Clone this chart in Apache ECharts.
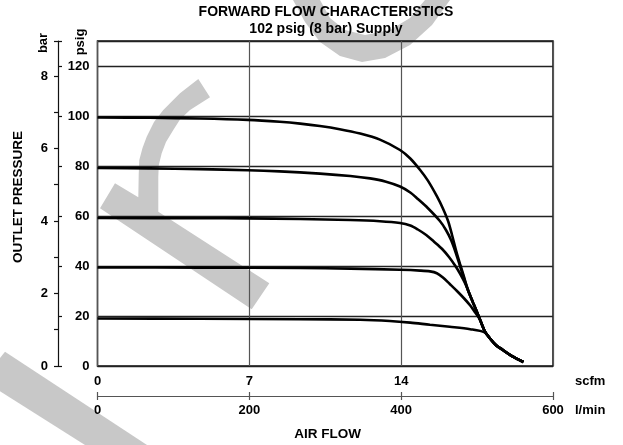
<!DOCTYPE html>
<html>
<head>
<meta charset="utf-8">
<script src="https://cdn.jsdelivr.net/npm/echarts@6/dist/echarts.min.js"></script>
<style>
  html, body { margin: 0; padding: 0; background: #fff; }
  #chart { width: 623px; height: 445px; }
</style>
</head>
<body>
<div id="chart"></div>
<script>
// Air flow axis (l/min) with matching scfm labels
const flowTicks = [0, 200, 400, 600];
const scfmLabels = ['0', '7', '14'];
// Outlet pressure axes
const psigTicks = [0, 20, 40, 60, 80, 100, 120];
const barLabels = [0, 2, 4, 6, 8];
const PSIG_PER_BAR = 14.5038;

// Regulated outlet pressure (psig) against air flow (l/min), one curve per set point
const set100 = [[0, 99.4], [69, 99.28], [135, 99.0], [198, 98.44], [240, 97.68], [267, 96.96], [293, 96.0], [319, 94.72], [346, 92.96], [372, 90.56], [398.5, 86.4], [412, 83.0], [425, 78.4], [435, 74.24], [447, 67.92], [455, 63.0], [462, 57.8], [467, 52.4], [473, 45.44], [477.5, 40.8], [482, 36.4], [488, 30.4], [495, 25.12], [502, 20.0], [510, 14.0], [517, 11.0], [525, 8.32], [534, 6.4], [546, 3.92], [561, 1.6]];
const set80 = [[0, 79.2], [69, 79.04], [135, 78.76], [198, 78.32], [240, 77.84], [293, 76.96], [333, 76.0], [359, 75.04], [379, 73.84], [398.5, 71.8], [412, 69.4], [422, 66.8], [435, 63.2], [451, 58.0], [459, 54.4], [466, 50.2], [472, 45.2], [477.5, 40.0], [488, 30.4], [495, 25.12], [502, 20.0], [510, 14.0], [517, 11.0], [525, 8.32], [534, 6.4], [546, 3.92], [561, 1.6]];
const set60 = [[0, 59.2], [135, 59.12], [198, 59.04], [267, 58.8], [333, 58.4], [372, 57.92], [398.5, 57.2], [412, 56.2], [422, 54.6], [433, 52.4], [443, 49.8], [454, 46.8], [463, 43.6], [471, 40.2], [477.5, 37.0], [484, 33.2], [495, 25.12], [502, 20.0], [510, 14.0], [517, 11.0], [525, 8.32], [534, 6.4], [546, 3.92], [561, 1.6]];
const set40 = [[0, 39.4], [135, 39.36], [267, 39.2], [333, 38.96], [398.5, 38.48], [425, 38.16], [438, 37.84], [447, 37.12], [455, 35.4], [464, 32.8], [473.5, 30.0], [483, 27.0], [491, 24.2], [497, 21.6], [504, 18.4], [510, 14.0], [517, 11.0], [525, 8.32], [534, 6.4], [546, 3.92], [561, 1.6]];
const set20 = [[0, 19.0], [135, 18.88], [267, 18.72], [346, 18.48], [385, 18.0], [412, 17.36], [438, 16.48], [464, 15.68], [491, 14.72], [510, 13.44], [517, 11.0], [525, 8.32], [534, 6.4], [546, 3.92], [561, 1.6]];

const FONT = 'Liberation Sans, Arial, sans-serif';
const labelStyle = { fontFamily: FONT, fontWeight: 'bold', fontSize: 13, color: '#000' };

const chart = echarts.init(document.getElementById('chart'), null, { renderer: 'canvas' });

function curve(data) {
  return {
    type: 'line',
    data: data,
    symbol: 'none',
    smooth: 0.3,
    silent: true,
    lineStyle: { color: '#000', width: 2.6 },
    z: 5
  };
}

function text(str, x, y, opts) {
  return Object.assign({
    type: 'text',
    x: x, y: y,
    silent: true,
    style: Object.assign({
      text: str,
      fill: '#000',
      font: 'bold 13px ' + FONT,
      textAlign: 'center',
      textVerticalAlign: 'middle'
    }, opts && opts.style)
  }, opts && opts.el);
}

const shade = '#c8c8c8';
const tickLine = { color: '#111', width: 1.2 };

chart.setOption({
  animation: false,
  backgroundColor: '#fff',
  grid: {
    left: 97.5, right: 70, top: 41, bottom: 79,
    show: true, borderColor: '#111', borderWidth: 1.5,
    backgroundColor: 'transparent'
  },
  xAxis: [
    {
      type: 'value', min: 0, max: 600, interval: 200, position: 'bottom',
      axisLine: { show: false }, axisTick: { show: false },
      splitLine: { show: true, lineStyle: { color: '#555', width: 1.2 } },
      axisLabel: Object.assign({
        margin: 9,
        formatter: v => { const i = flowTicks.indexOf(v); return i >= 0 && i < scfmLabels.length ? scfmLabels[i] : ''; }
      }, labelStyle)
    },
    {
      type: 'value', min: 0, max: 600, interval: 200, position: 'bottom', offset: 30,
      axisLine: { show: true, onZero: false, lineStyle: { color: '#555', width: 1.2 } },
      axisTick: { show: true, inside: false, length: 4, lineStyle: { color: '#555', width: 1.2 } },
      splitLine: { show: false },
      axisLabel: Object.assign({ margin: 8 }, labelStyle)
    },
    {
      type: 'value', min: 0, max: 600, interval: 200, position: 'bottom', offset: 30,
      axisLine: { show: false, onZero: false },
      axisTick: { show: true, inside: true, length: 4, lineStyle: { color: '#555', width: 1.2 } },
      splitLine: { show: false },
      axisLabel: { show: false }
    }
  ],
  yAxis: [
    {
      type: 'value', min: 0, max: 130, interval: 20, position: 'left',
      axisLine: { show: false }, axisTick: { show: false },
      splitLine: { show: true, lineStyle: { color: '#222', width: 1.3 } },
      axisLabel: Object.assign({
        margin: 8,
        formatter: v => psigTicks.indexOf(v) >= 0 ? String(v) : ''
      }, labelStyle)
    },
    {
      type: 'value', min: 0, max: 130 / PSIG_PER_BAR, interval: 1, position: 'left', offset: 39.5,
      axisLine: { show: true, onZero: false, lineStyle: tickLine },
      axisTick: { show: true, inside: false, length: 4, lineStyle: tickLine },
      splitLine: { show: false },
      axisLabel: Object.assign({
        margin: 10,
        formatter: v => barLabels.indexOf(v) >= 0 ? String(v) : ''
      }, labelStyle)
    },
    {
      type: 'value', min: 0, max: 130, interval: 20, position: 'left', offset: 39.5,
      axisLine: { show: false, onZero: false },
      axisTick: { show: true, inside: true, length: 4, lineStyle: tickLine },
      splitLine: { show: false },
      axisLabel: { show: false }
    }
  ],
  series: [curve(set100), curve(set80), curve(set60), curve(set40), curve(set20)],
  graphic: {
    elements: [
      // light grey brush strokes behind the plot
      { type: 'polygon', z: -1, silent: true, style: { fill: shade },
        shape: { points: [[115, 183.3], [138.3, 197.3], [138.7, 175], [139.3, 160], [142.5, 148], [146.7, 136.7], [154, 122], [163.3, 110], [180, 93.3], [198.3, 79], [210, 97.3], [190, 110], [180, 119.5], [173.3, 130], [166, 142], [161.7, 153.3], [158.8, 165], [158.3, 176.7], [158.3, 211.7], [269.3, 283.3], [251.7, 309.3], [100, 208.3]] } },
      { type: 'polygon', z: -1, silent: true, style: { fill: shade },
        shape: { points: [[0, 358], [5, 351.7], [147, 445], [85, 445], [0, 391.3]] } },
      { type: 'polygon', z: -1, silent: true, style: { fill: shade },
        shape: { points: [[293, 0], [305, 22], [320, 42], [340, 56], [362, 62], [385, 58], [410, 45], [432, 25], [450, 0], [425, 0], [410, 18], [390, 30], [365, 35], [345, 30], [330, 18], [320, 0]] } },
      // titles and axis names
      text('FORWARD FLOW CHARACTERISTICS', 326, 12.5, { style: { font: 'bold 14px ' + FONT } }),
      text('102 psig (8 bar) Supply', 326, 29.5, { style: { font: 'bold 14px ' + FONT } }),
      text('scfm', 575, 381.5, { style: { textAlign: 'left' } }),
      text('l/min', 575, 410, { style: { textAlign: 'left' } }),
      text('AIR FLOW', 327.5, 434.5, { style: { font: 'bold 13.5px ' + FONT } }),
      text('OUTLET PRESSURE', 18, 197, { el: { rotation: Math.PI / 2 }, style: { font: 'bold 13.5px ' + FONT } }),
      text('bar', 43, 43, { el: { rotation: Math.PI / 2 } }),
      text('psig', 80, 42, { el: { rotation: Math.PI / 2 } })
    ]
  }
});
</script>
</body>
</html>
